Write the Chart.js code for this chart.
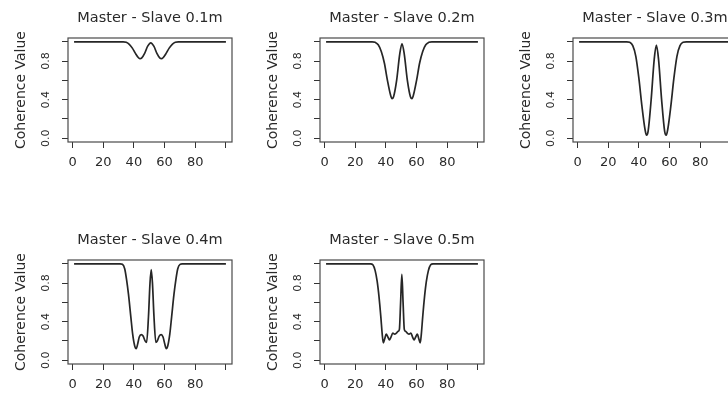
<!DOCTYPE html>
<html>
<head>
<meta charset="utf-8">
<script src="https://cdn.jsdelivr.net/npm/chart.js@4.4.1/dist/chart.umd.min.js"></script>
<style>
  html, body { margin: 0; padding: 0; background: #fff; }
  body { width: 728px; height: 393px; overflow: hidden; position: relative; }
  canvas { position: absolute; }
</style>
</head>
<body>
<canvas id="p1" width="252" height="185" style="left:0px;top:0px"></canvas>
<canvas id="p2" width="252" height="185" style="left:252px;top:0px"></canvas>
<canvas id="p3" width="252" height="185" style="left:505px;top:0px"></canvas>
<canvas id="p4" width="252" height="185" style="left:0px;top:222px"></canvas>
<canvas id="p5" width="252" height="185" style="left:252px;top:222px"></canvas>
<script>
// values
const panelTitles = ['Master - Slave 0.1m', 'Master - Slave 0.2m', 'Master - Slave 0.3m',
  'Master - Slave 0.4m', 'Master - Slave 0.5m'];
const yAxisTitle = 'Coherence Value';

const xTickValues = [0, 20, 40, 60, 80, 100];
const xTickLabels = ['0', '20', '40', '60', '80', ''];
const yTickValues = [0, 0.2, 0.4, 0.6, 0.8, 1.0];
const yTickLabels = ['0.0', '', '0.4', '', '0.8', ''];

const x01 = [1, 33, 35, 37, 39, 41, 43, 44, 45, 47, 49, 51, 53, 55, 57, 58, 59, 61, 63, 65, 67, 69, 100];
const y01 = [1, 1, 0.995, 0.975, 0.935, 0.88, 0.835, 0.825, 0.83, 0.88, 0.955, 0.99, 0.955, 0.88, 0.83, 0.825, 0.835, 0.88, 0.935, 0.975, 0.995, 1, 1];

const x02 = [1, 31, 33, 35, 37, 39, 41, 43, 44, 45, 47, 49, 50.5, 52, 54, 56, 57, 58, 60, 62, 64, 66, 68, 70, 100];
const y02 = [1, 1, 0.995, 0.97, 0.9, 0.78, 0.6, 0.45, 0.41, 0.43, 0.6, 0.87, 0.98, 0.87, 0.6, 0.43, 0.41, 0.45, 0.6, 0.78, 0.9, 0.97, 0.995, 1, 1];

const x03 = [1, 32, 34, 36, 38, 40, 42, 44, 45, 46, 48, 50, 51.4, 52.8, 54.8, 56.8, 57.8, 58.8, 60.8, 62.8, 64.8, 66.8, 68.8, 71, 100];
const y03 = [1, 1, 0.995, 0.96, 0.85, 0.62, 0.33, 0.09, 0.03, 0.07, 0.4, 0.82, 0.965, 0.82, 0.4, 0.07, 0.03, 0.09, 0.33, 0.62, 0.85, 0.96, 0.995, 1, 1];

const x04 = [1, 31, 32.5, 34, 35.2, 36.5, 38, 39.2, 40.5, 41.5, 42.5, 43.5, 44.8, 46, 47.3, 48.3, 49.5, 50.5, 51.3,
  52.1, 53.1, 54.3, 55.3, 56.5, 57.8, 59, 60.1, 61.1, 62.1, 63.4, 64.6, 66.1, 67.4, 68.6, 70.1, 71.5, 100];
const y04 = [1, 1, 0.995, 0.95, 0.84, 0.68, 0.45, 0.27, 0.15, 0.12, 0.17, 0.24, 0.265, 0.25, 0.2, 0.185, 0.45, 0.8, 0.94,
  0.8, 0.45, 0.185, 0.2, 0.25, 0.265, 0.24, 0.17, 0.12, 0.15, 0.27, 0.45, 0.68, 0.84, 0.95, 0.995, 1, 1];

const x05 = [1, 30, 31.5, 33, 34.3, 35.5, 36.7, 37.6, 38.3, 39.2, 40.2, 41.3, 42.3, 43.3, 44.5, 45.7, 46.8, 48, 48.8, 49.6, 50.4,
  51.2, 52, 52.8, 54, 55.1, 56.3, 57.4, 58.4, 59.4, 60.5, 61.5, 62.4, 63.1, 64, 65.2, 66.4, 67.7, 69.2, 70.7, 100];
const y05 = [1, 1, 0.99, 0.93, 0.82, 0.66, 0.45, 0.27, 0.18, 0.22, 0.27, 0.24, 0.21, 0.24, 0.28, 0.27, 0.28, 0.3, 0.32, 0.6, 0.89,
  0.6, 0.32, 0.3, 0.28, 0.27, 0.28, 0.24, 0.21, 0.24, 0.27, 0.22, 0.18, 0.27, 0.45, 0.66, 0.82, 0.93, 0.99, 1, 1];

const panelX = [x01, x02, x03, x04, x05];
const panelY = [y01, y02, y03, y04, y05];

// box, rotated y labels and panel title, R style
const rFrame = {
  id: 'rFrame',
  afterDraw(chart, args, opts) {
    const { ctx, chartArea: a } = chart;
    const yScale = chart.scales.y;
    ctx.save();
    ctx.strokeStyle = '#4a4a4a';
    ctx.lineWidth = 1.2;
    ctx.strokeRect(a.left, a.top, a.right - a.left, a.bottom - a.top);

    ctx.fillStyle = '#2a2a2a';
    ctx.font = '11px "DejaVu Sans"';
    ctx.textAlign = 'center';
    ctx.textBaseline = 'middle';
    yTickValues.forEach((v, i) => {
      if (!yTickLabels[i]) return;
      ctx.save();
      ctx.translate(a.left - 22, yScale.getPixelForValue(v));
      ctx.rotate(-Math.PI / 2);
      ctx.fillText(yTickLabels[i], 0, 0);
      ctx.restore();
    });

    ctx.font = '14.5px "DejaVu Sans"';
    ctx.textBaseline = 'alphabetic';
    ctx.fillText(opts.text, (a.left + a.right) / 2, a.top - 16);
    ctx.restore();
  }
};

function makePanel(id, i) {
  const points = panelX[i].map((x, k) => ({ x, y: panelY[i][k] }));
  return new Chart(document.getElementById(id), {
    type: 'line',
    data: {
      datasets: [{
        data: points,
        borderColor: '#262626',
        borderWidth: 1.7,
        pointRadius: 0,
        fill: false,
        cubicInterpolationMode: 'monotone'
      }]
    },
    options: {
      responsive: false,
      animation: false,
      events: [],
      layout: { padding: { top: 38, right: 20, left: 0, bottom: 0 } },
      plugins: {
        legend: { display: false },
        title: { display: false },
        tooltip: { enabled: false },
        rFrame: { text: panelTitles[i] }
      },
      scales: {
        x: {
          type: 'linear',
          min: -2.96,
          max: 103.96,
          afterBuildTicks: s => { s.ticks = xTickValues.map(v => ({ value: v })); },
          afterFit: s => { s.height = 43; },
          grid: { drawOnChartArea: false, drawTicks: true, tickLength: 6, color: '#333' },
          border: { display: false },
          ticks: {
            autoSkip: false,
            maxRotation: 0,
            padding: 7,
            color: '#2a2a2a',
            font: { family: 'DejaVu Sans', size: 13 },
            callback: (v, k) => xTickLabels[k]
          }
        },
        y: {
          type: 'linear',
          min: -0.04,
          max: 1.04,
          afterBuildTicks: s => { s.ticks = yTickValues.map(v => ({ value: v })); },
          afterFit: s => { s.width = 68; },
          grid: { drawOnChartArea: false, drawTicks: true, tickLength: 6, color: '#333' },
          border: { display: false },
          ticks: { display: false },
          title: {
            display: true,
            text: yAxisTitle,
            color: '#2a2a2a',
            font: { family: 'DejaVu Sans', size: 14 },
            padding: { top: 12.6, bottom: 0 }
          }
        }
      }
    },
    plugins: [rFrame]
  });
}

['p1', 'p2', 'p3', 'p4', 'p5'].forEach((id, i) => makePanel(id, i));
</script>
</body>
</html>
